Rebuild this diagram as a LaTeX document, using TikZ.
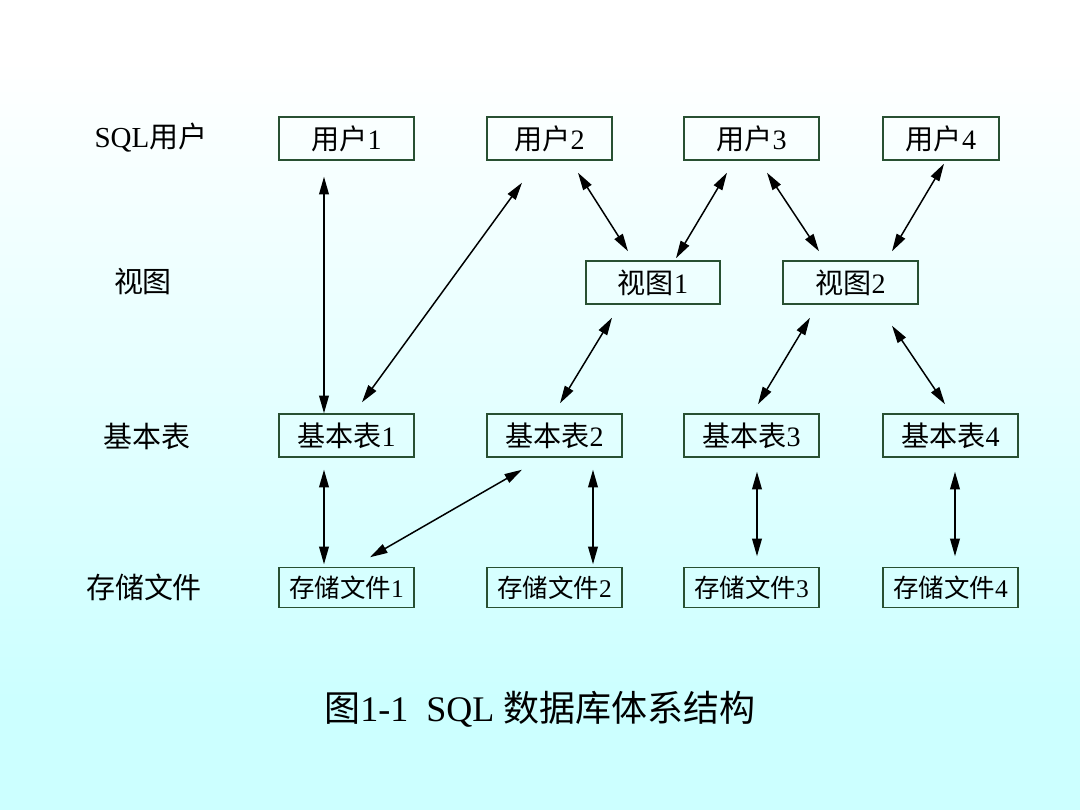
\documentclass[tikz,border=0pt]{standalone}
\usepackage{fontspec}
\setmainfont{Liberation Serif}
\newfontfamily\cjk{Noto Sans CJK SC}
\usetikzlibrary{calc, positioning, arrows.meta}
\definecolor{bgcyan}{RGB}{204,255,255}
\definecolor{boxline}{RGB}{40,80,50}
\tikzset{
  box/.style={shape=rectangle, draw=boxline, line width=0.85pt, minimum height=0.86cm, minimum width=2.7cm, inner sep=1pt, font=\fontsize{16}{18}\selectfont},
  filebox/.style={box, minimum height=0.8cm, font=\fontsize{14.5}{16}\selectfont},
  rowlabel/.style={font=\fontsize{16.5}{18}\selectfont, inner sep=0pt},
  link/.style={{Triangle[length=10pt,width=5.5pt]}-{Triangle[length=10pt,width=5.5pt]}, line width=0.85pt, black}
}
\begin{document}
\begin{tikzpicture}[x=0.02cm, y=-0.02cm]
% background
\fill[bgcyan] (0,0) rectangle (1080,810);
\fill[white] (0,0) rectangle (1080,60);
\shade[top color=white, bottom color=bgcyan] (0,60) rectangle (1080,700);
\useasboundingbox (0,0) rectangle (1080,810);
% row labels
\node[rowlabel] (lu) at (151,138) {SQL{\cjk 用户}};
\node[rowlabel] (lv) at (143,282) {\cjk 视图};
\node[rowlabel] (lb) at (147,436) {\cjk 基本表};
\node[rowlabel] (lf) at (144,587) {\cjk 存储文件};
% users
\node[box] (u1) at (346.5,138.5) {{\cjk 用户}1};
\node[box, minimum width=2.5cm] (u2) at (549.5,138.5) {{\cjk 用户}2};
\node[box] (u3) at (751.5,138.5) {{\cjk 用户}3};
\node[box, minimum width=2.32cm] (u4) at (941,138.5) {{\cjk 用户}4};
% views
\node[box, minimum width=2.68cm] (v1) at (653,282.5) {{\cjk 视图}1};
\node[box] (v2) at (850.5,282.5) {{\cjk 视图}2};
% base tables
\node[box] (b1) at (346.5,435.5) {{\cjk 基本表}1};
\node[box] (b2) at (554.5,435.5) {{\cjk 基本表}2};
\node[box] (b3) at (751.5,435.5) {{\cjk 基本表}3};
\node[box] (b4) at (950.5,435.5) {{\cjk 基本表}4};
% stored files
\node[filebox] (f1) at (346.5,587.5) {{\cjk 存储文件}1};
\node[filebox] (f2) at (554.5,587.5) {{\cjk 存储文件}2};
\node[filebox] (f3) at (751.5,587.5) {{\cjk 存储文件}3};
\node[filebox] (f4) at (950.5,587.5) {{\cjk 存储文件}4};
% caption
\node[font=\fontsize{20.5}{24}\selectfont] (fig) at (540,709) {{\cjk 图}1-1\ \ SQL {\cjk 数据库体系结构}};
% links
\draw[link] ($(u1.south)+(-22.5,16)$) -- ($(b1.north)+(-22.5,0)$);
\draw[link] ($(u2.south)+(-27.5,22)$) -- ($(b1.north)+(15.5,-11)$);
\draw[link] ($(u2.south)+(28.5,12)$) -- ($(v1.north)+(-25,-9)$);
\draw[link] ($(u3.south)+(-24.5,12)$) -- ($(v1.north)+(23,-2)$);
\draw[link] ($(u3.south)+(15.5,12)$) -- ($(v2.north)+(-31.5,-9)$);
\draw[link] ($(u4.south)+(3,3)$) -- ($(v2.north)+(41.5,-9)$);
\draw[link] ($(v1.south)+(-41,13)$) -- ($(b2.north)+(5.5,-10)$);
\draw[link] ($(v2.south)+(-40.5,13)$) -- ($(b3.north)+(6.5,-9)$);
\draw[link] ($(v2.south)+(41.5,21)$) -- ($(b4.north)+(-5.5,-9)$);
\draw[link] ($(b1.south)+(-22.5,12)$) -- ($(f1.north)+(-22.5,-2.5)$);
\draw[link] ($(b2.south)+(-32.5,12)$) -- ($(f1.north)+(23.5,-9.5)$);
\draw[link] ($(b2.south)+(38.5,12)$) -- ($(f2.north)+(38.5,-2.5)$);
\draw[link] ($(b3.south)+(5.5,14)$) -- ($(f3.north)+(5.5,-10.5)$);
\draw[link] ($(b4.south)+(4.5,14)$) -- ($(f4.north)+(4.5,-10.5)$);
\end{tikzpicture}
\end{document}
